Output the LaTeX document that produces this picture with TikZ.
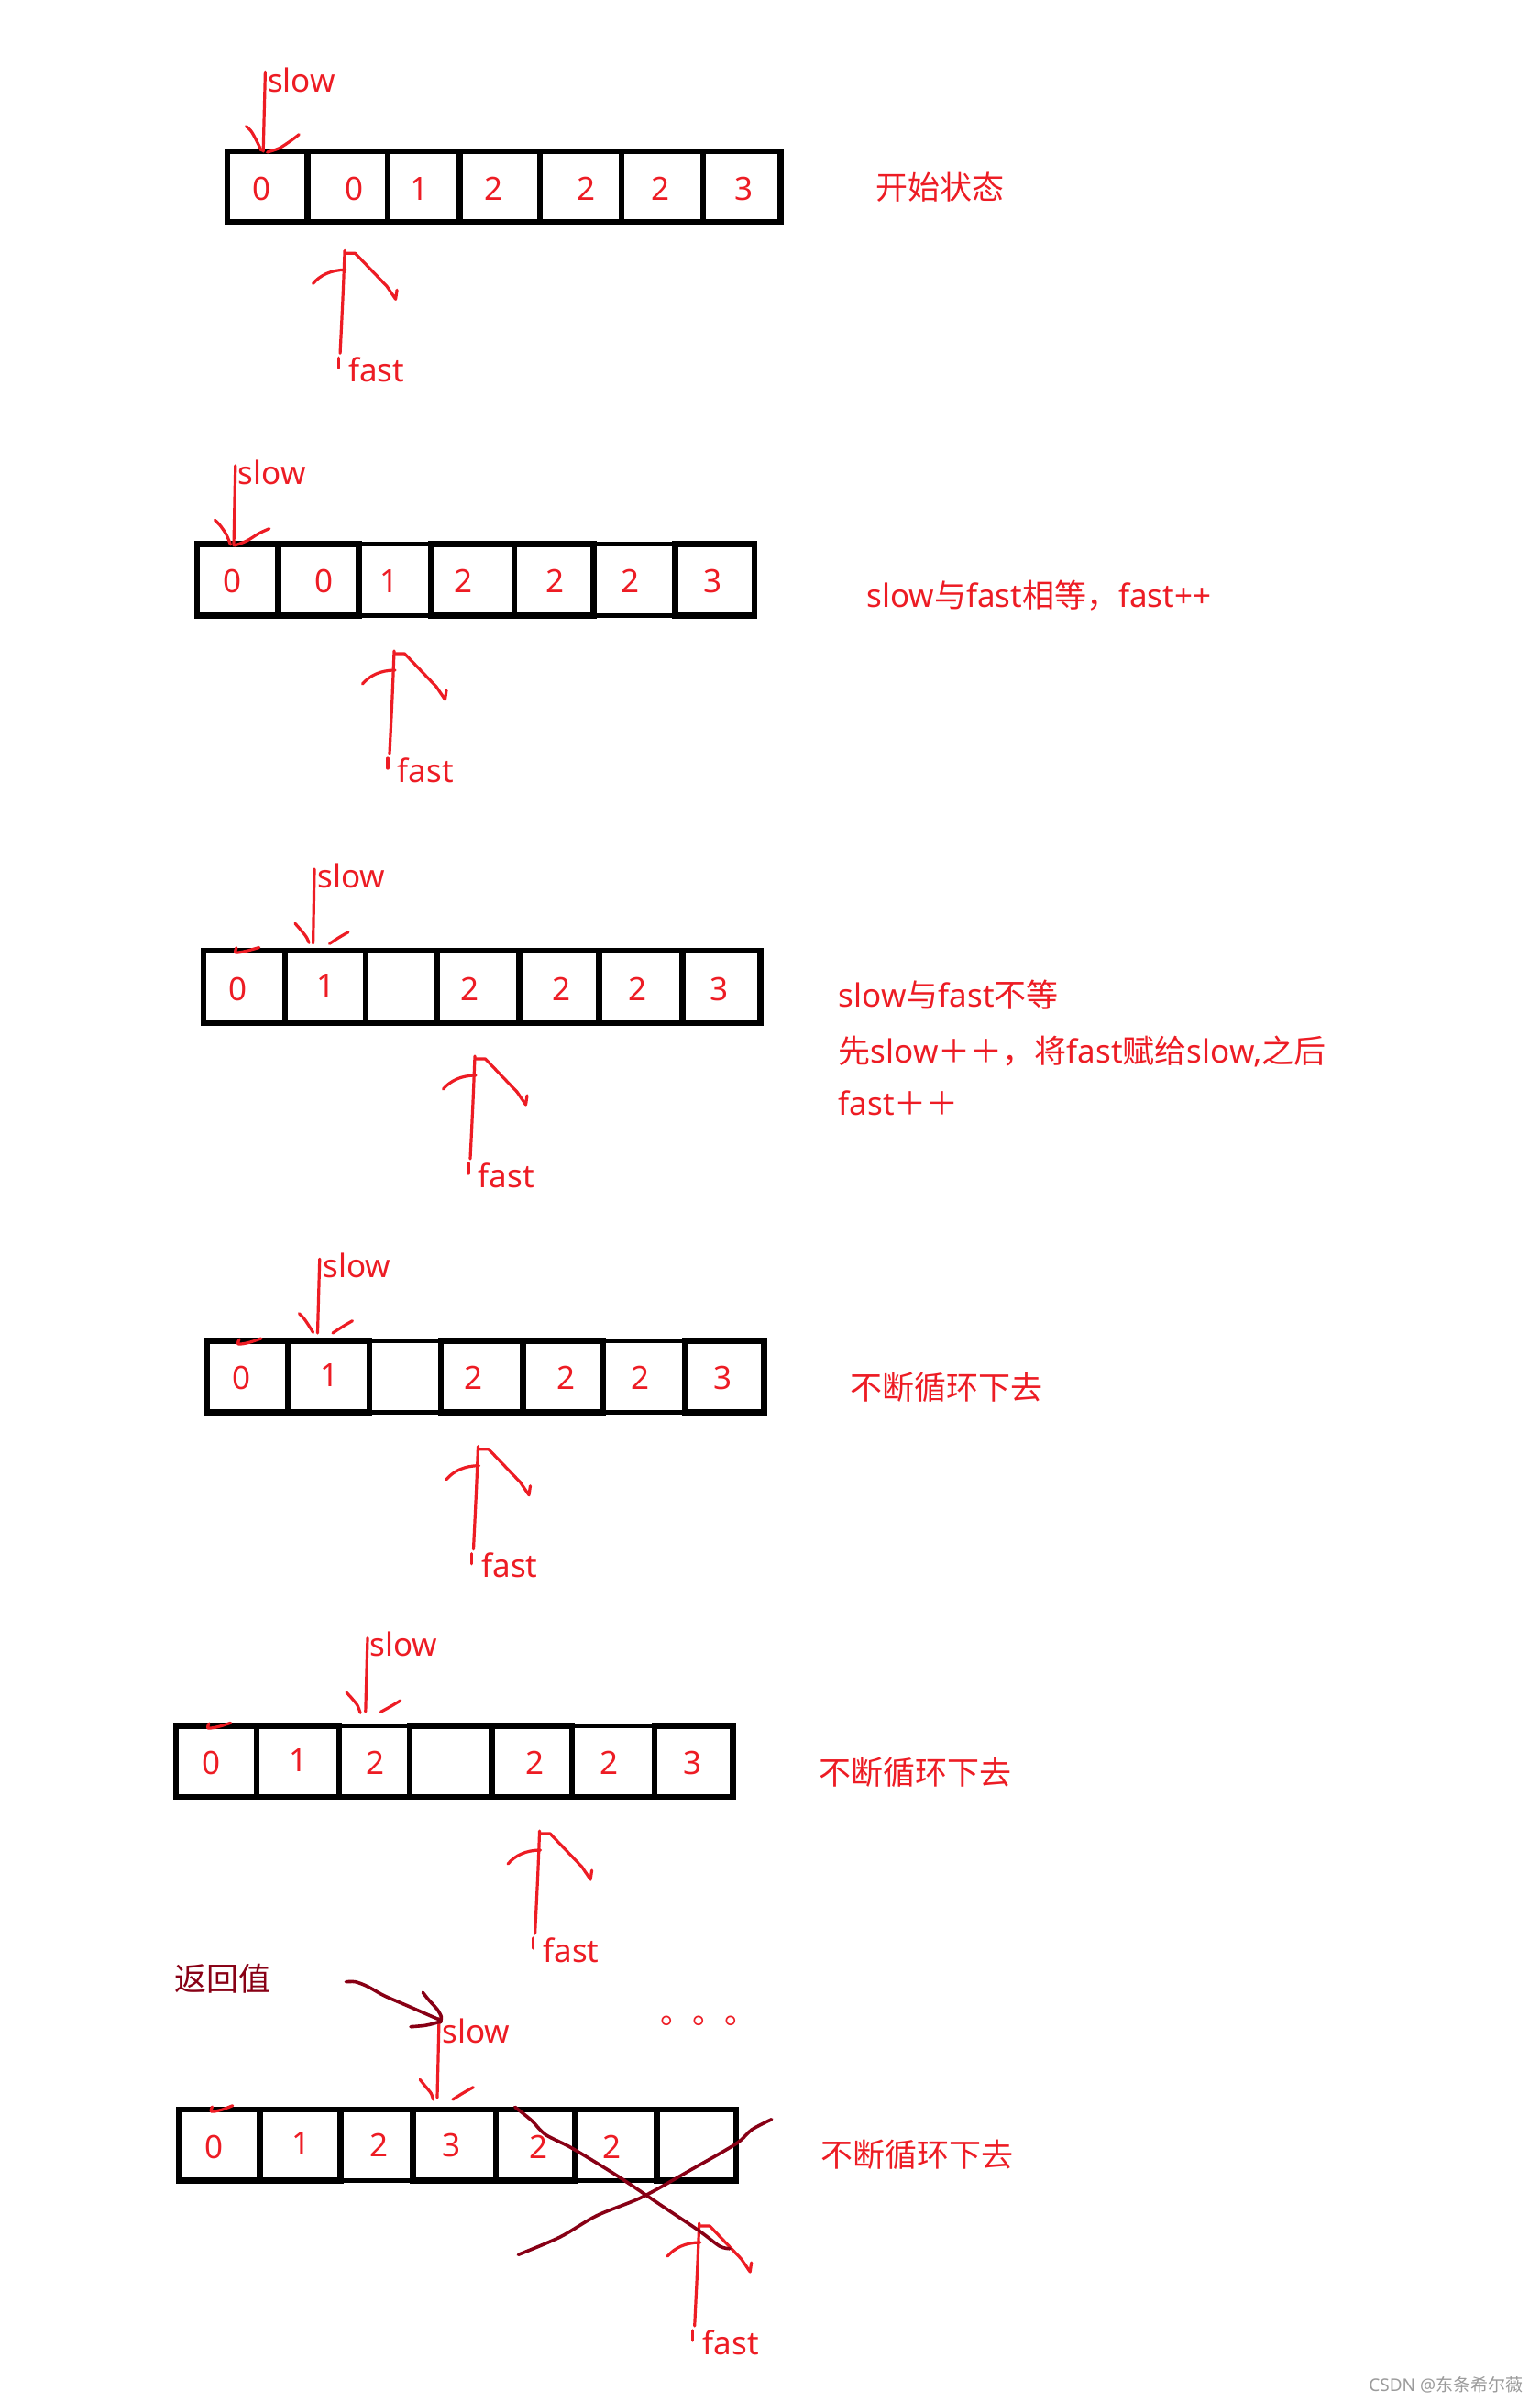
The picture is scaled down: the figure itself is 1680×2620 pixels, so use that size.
\documentclass[tikz,border=0pt]{standalone}
\usepackage{fontspec}
\setmainfont{Noto Sans}
\newfontfamily\zhfont{Noto Sans CJK SC}
\definecolor{pred}{RGB}{237,28,36}
\definecolor{dred}{RGB}{136,0,21}
\definecolor{wmgray}{RGB}{155,155,155}
\newcommand\Z[1]{{\zhfont #1}}
\newcommand\txtbig{\fontsize{17.5}{21}\selectfont}
\newcommand\txtsmall{\fontsize{9.5}{11}\selectfont}
\newcommand\fastarrow[3]{%
  \begin{scope}[shift={(#1,#2)}]
    \draw[redpen] plot[smooth] coordinates {(0,0) (-2,50) (-5,112)};
    \draw[redpen] (-7,117) -- (-7,128);
    \draw[redpen] (-34.5,36) .. controls (-27,27) and (-15,21) .. (1,21);
    \draw[redpen] (1,3) -- (11.5,3) -- (46,39) -- (55.5,53) -- (57,43);
    \node[ptrlabel] (#3) at (3.5,143) {fast};
  \end{scope}}
\begin{document}
\begin{tikzpicture}[x=0.5pt,y=-0.5pt,
  thickcell/.style={draw=black, line width=3.3pt},
  thincell/.style={draw=black, line width=2.6pt},
  digit/.style={font=\txtbig, text=pred, inner sep=0pt, anchor=center},
  ptrlabel/.style={font=\txtbig, text=pred, inner sep=0pt, anchor=base west},
  notetext/.style={font=\txtbig, text=pred, inner sep=0pt, anchor=west},
  redpen/.style={draw=pred, line width=1.6pt, line cap=round, line join=round},
  darkpen/.style={draw=dred, line width=1.8pt, line cap=round, line join=round},
]
\fill[white] (0,0) rectangle (1680,2620);
\useasboundingbox (0,0) rectangle (1680,2620);

% ---------------- Row 1 ----------------
\foreach \a/\b in {423/501.5,678/767}
  \draw[thincell] (\a,165) rectangle (\b,242);
\foreach \a/\b in {248/335.5,335.5/423,501.5/589,589/678,767/851.5}
  \draw[thickcell] (\a,165) rectangle (\b,242);
\node[digit] (r1n1) at (285.9,205.7) {0};
\node[digit] (r1n2) at (387,205.7) {0};
\node[digit] (r1n3) at (457.6,205.7) {1};
\node[digit] (r1n4) at (538.7,205.7) {2};
\node[digit] (r1n5) at (639.8,205.7) {2};
\node[digit] (r1n6) at (720.9,205.7) {2};
\node[digit] (r1n7) at (812,205.7) {3};
\coordinate (s1a) at (289.4,78.3);
\coordinate (s1b) at (287.2,165);
\draw[redpen] (s1a) -- (s1b);
\draw[redpen] plot[smooth] coordinates {(268.6,137.7) (274.2,143.3) (279.8,153.3) (285,164)};
\draw[redpen] plot[smooth] coordinates {(326.2,146.7) (317.6,153.3) (304.6,161.7) (291.6,166)};
\node[ptrlabel] (slow1) at (291.6,100) {slow};
\fastarrow{376.1}{273.3}{fast1}
\node[notetext] (t1) at (955,204) {\Z{开始状态}};

% ---------------- Row 2 ----------------
\foreach \a/\b in {391.6/470.2,647.4/736.3}
  \draw[thincell] (\a,593.3) rectangle (\b,671.7);
\foreach \a/\b in {214.8/303.2,303.2/391.6,470.2/560.8,560.8/647.4,736.3/822.9}
  \draw[thickcell] (\a,593.3) rectangle (\b,671.7);
\node[digit] (r2n1) at (253.7,634) {0};
\node[digit] (r2n2) at (354,634) {0};
\node[digit] (r2n3) at (424.6,634) {1};
\node[digit] (r2n4) at (506,634) {2};
\node[digit] (r2n5) at (606,634) {2};
\node[digit] (r2n6) at (688,634) {2};
\node[digit] (r2n7) at (778,634) {3};
\coordinate (s2a) at (256.8,508);
\coordinate (s2b) at (255,595);
\draw[redpen] (s2a) -- (s2b);
\draw[redpen] plot[smooth] coordinates {(234.5,567.3) (240.3,573.3) (247,583.3) (251.4,594)};
\draw[redpen] plot[smooth] coordinates {(293.8,576.7) (282.7,581.7) (269.3,590) (255.9,595)};
\node[ptrlabel] (slow2) at (259.5,528.3) {slow};
\fastarrow{430}{710}{fast2}
\node[notetext] (t2) at (945,650) {slow\Z{与}fast\Z{相等，}fast++};

% ---------------- Row 3 ----------------
\foreach \a/\b in {398.8/476.9,653.7/744.3}
  \draw[thincell] (\a,1037) rectangle (\b,1116);
\foreach \a/\b in {222/310.8,310.8/398.8,476.9/566.2,566.2/653.7,744.3/829.6}
  \draw[thickcell] (\a,1037) rectangle (\b,1116);
\node[digit] (r3n1) at (259.5,1079) {0};
\node[digit] (r3n2) at (356,1075) {1};
\node[digit] (r3n4) at (512.6,1079) {2};
\node[digit] (r3n5) at (613,1079) {2};
\node[digit] (r3n6) at (695.6,1079) {2};
\node[digit] (r3n7) at (785,1079) {3};
\coordinate (s3a) at (343,948);
\coordinate (s3b) at (341.6,1029);
\draw[redpen] (s3a) -- (s3b);
\draw[redpen] plot[smooth] coordinates {(322,1007.3) (327.3,1013.3) (334,1021.7) (337.1,1028.3)};
\draw[redpen] plot[smooth] coordinates {(380,1016.7) (369.7,1022.7) (359.5,1029.3)};
\draw[redpen] plot[smooth] coordinates {(258,1034) (257,1039) (268,1037.5) (282.7,1033.5)};
\node[ptrlabel] (slow3) at (346,968.3) {slow};
\fastarrow{518}{1152}{fast3}
\node[notetext] (t3a) at (914.5,1085) {slow\Z{与}fast\Z{不等}};
\node[notetext] (t3b) at (914.5,1146.7) {\Z{先}slow\Z{＋＋，将}fast\Z{赋给}slow,\Z{之后}};
\node[notetext] (t3c) at (914.5,1203) {fast\Z{＋＋}};

% ---------------- Row 4 ----------------
\foreach \a/\b in {402.8/480.9,657.7/747.6}
  \draw[thincell] (\a,1462.7) rectangle (\b,1540.7);
\foreach \a/\b in {226/314.6,314.6/402.8,480.9/570.2,570.2/657.7,747.6/833.6}
  \draw[thickcell] (\a,1462.7) rectangle (\b,1540.7);
\node[digit] (r4n1) at (264,1503.3) {0};
\node[digit] (r4n2) at (359.5,1500) {1};
\node[digit] (r4n4) at (517,1503.3) {2};
\node[digit] (r4n5) at (618,1503.3) {2};
\node[digit] (r4n6) at (699,1503.3) {2};
\node[digit] (r4n7) at (789,1503.3) {3};
\coordinate (s4a) at (348.75,1373.3);
\coordinate (s4b) at (346.5,1454);
\draw[redpen] (s4a) -- (s4b);
\draw[redpen] plot[smooth] coordinates {(326.4,1432.7) (331.8,1438.3) (338.5,1448.3) (341.6,1453.3)};
\draw[redpen] plot[smooth] coordinates {(384.5,1440.7) (374.2,1446.7) (363,1454)};
\draw[redpen] plot[smooth] coordinates {(261,1461) (260,1466) (271,1464.5) (284.9,1460)};
\node[ptrlabel] (slow4) at (352,1393.3) {slow};
\fastarrow{521.5}{1577.7}{fast4}
\node[notetext] (t4) at (926.7,1513) {\Z{不断循环下去}};

% ---------------- Row 5 ----------------
\foreach \a/\b in {369.8/447,623.8/714}
  \draw[thincell] (\a,1882.7) rectangle (\b,1960);
\foreach \a/\b in {191.9/280,280/369.8,447/536.3,536.3/623.8,714/799.7}
  \draw[thickcell] (\a,1882.7) rectangle (\b,1960);
\node[digit] (r5n1) at (230.5,1923) {0};
\node[digit] (r5n2) at (326,1920) {1};
\node[digit] (r5n3) at (410,1923) {2};
\node[digit] (r5n5) at (584,1923) {2};
\node[digit] (r5n6) at (664.5,1923) {2};
\node[digit] (r5n7) at (756,1923) {3};
\coordinate (s5a) at (401,1786.7);
\coordinate (s5b) at (398.8,1867);
\draw[redpen] (s5a) -- (s5b);
\draw[redpen] plot[smooth] coordinates {(377.9,1846) (383.2,1851.7) (389.9,1860) (393,1868.3)};
\draw[redpen] plot[smooth] coordinates {(436.8,1855) (425.6,1861.7) (415.4,1867.3)};
\draw[redpen] plot[smooth] coordinates {(228,1880) (227,1885) (238,1883.5) (251.5,1879.3)};
\node[ptrlabel] (slow5) at (403,1806.7) {slow};
\fastarrow{588.6}{1997}{fast5}
\node[notetext] (t5) at (892.7,1933) {\Z{不断循环下去}};

% ---------------- Row 6 ----------------
\foreach \a/\b in {371.6/450.2,627.2/716.7}
  \draw[thincell] (\a,2301) rectangle (\b,2378.7);
\foreach \a/\b in {195.7/283.2,283.2/371.6,450.2/540.8,540.8/627.2,716.7/802.9}
  \draw[thickcell] (\a,2301) rectangle (\b,2378.7);
\node[digit] (r6n1) at (233.7,2341.7) {0};
\node[digit] (r6n2) at (328.8,2338.3) {1};
\node[digit] (r6n3) at (413.6,2340) {2};
\node[digit] (r6n4) at (492.6,2340) {3};
\node[digit] (r6n5) at (587.7,2341.7) {2};
\node[digit] (r6n6) at (668,2341.7) {2};
\coordinate (s6a) at (479,2201.7);
\coordinate (s6b) at (477,2288);
\draw[redpen] (s6a) -- (s6b);
\draw[redpen] plot[smooth] coordinates {(458.2,2268.3) (463.6,2275) (470.3,2283.3) (472.5,2290)};
\draw[redpen] plot[smooth] coordinates {(516.25,2276.7) (504.6,2283.3) (494,2290)};
\draw[redpen] plot[smooth] coordinates {(231.5,2298) (230.5,2303) (241,2301.5) (253.75,2296.7)};
\node[ptrlabel] (slow6) at (482,2228.3) {slow};
\fastarrow{762.7}{2425}{fast6}
\node[notetext] (t6) at (895,2350) {\Z{不断循环下去}};
\node[anchor=base west, font=\txtbig, text=pred, inner sep=0pt] (dots) at (719.6,2207.5) {\Z{。。。}};

% return value annotation (dark red)
\node[notetext, text=dred] (ret) at (190,2158) {\Z{返回值}};
\coordinate (retA) at (377.4,2161.7);
\coordinate (retB) at (479.2,2202.7);
\draw[darkpen] plot[smooth] coordinates {(retA) (387.7,2161.7) (401,2166.7) (419,2176.7) (445.7,2188.3) (472.5,2200) (retB)};
\draw[darkpen] plot[smooth] coordinates {(461.3,2173.3) (468,2181.7) (477,2191.7) (481.4,2200) (480.5,2206)};
\draw[darkpen] plot[smooth] coordinates {(448,2210.7) (463.6,2209.3) (472.5,2207.3) (480.5,2205)};

% cross over the tail
\draw[darkpen] plot[smooth] coordinates {(561.8,2298.3) (580,2313) (595,2328.3) (624.3,2343.3) (673.4,2373.3) (718,2403.3) (762.7,2433.3) (785,2450) (796,2452.7)};
\draw[darkpen] plot[smooth] coordinates {(565.4,2459.3) (611,2440) (651,2416.7) (700,2396.7) (753.75,2366.7) (802.9,2338.3) (820,2323) (841.7,2311.7)};

% watermark
\node[anchor=west, font=\txtsmall, text=wmgray, inner sep=0pt] (wm) at (1493,2601.7) {CSDN @\Z{东条希尔薇}};
\end{tikzpicture}
\end{document}
